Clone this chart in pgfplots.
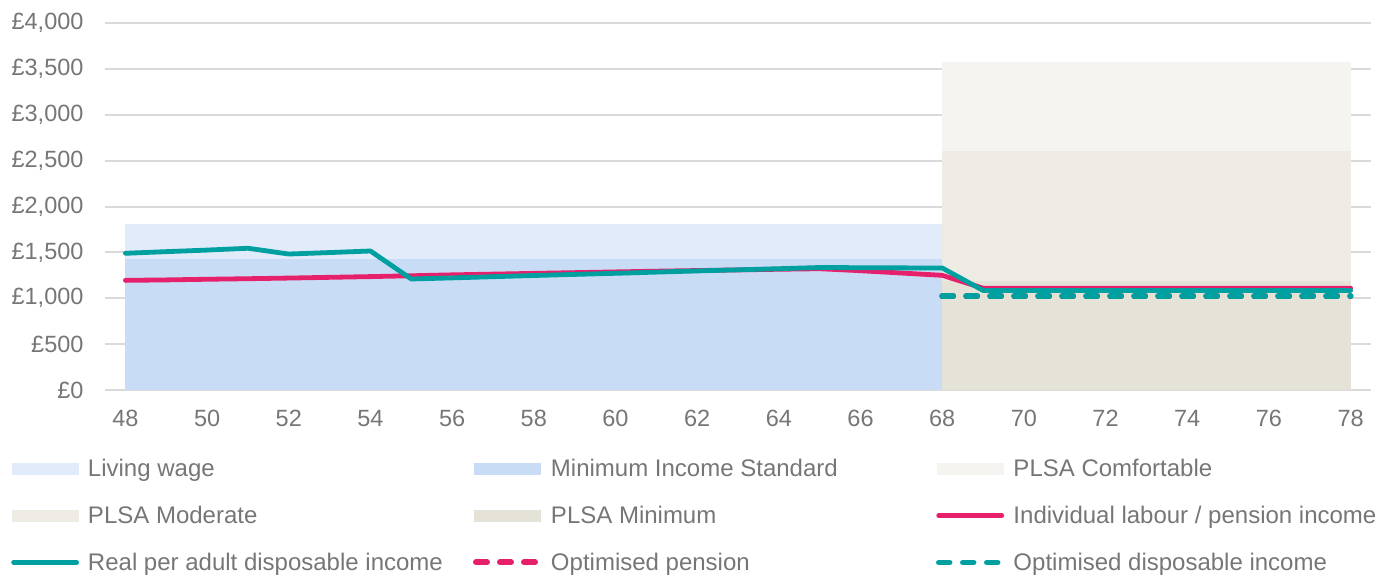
\documentclass[border=0pt]{standalone}
\usepackage{pgfplots}
\pgfplotsset{compat=1.18}
\usepackage{fontspec}
\setmainfont{Liberation Sans}
\definecolor{tickgray}{HTML}{767676}
\definecolor{gridgray}{HTML}{DADADA}
\definecolor{livingwage}{HTML}{E1EBFA}
\definecolor{mis}{HTML}{C8DCF6}
\definecolor{plsacomf}{HTML}{F5F4F0}
\definecolor{plsamod}{HTML}{EEEBE4}
\definecolor{plsamin}{HTML}{E5E2D8}
\definecolor{redline}{HTML}{E6206A}
\definecolor{tealline}{HTML}{00A0A0}
\pgfplotsset{
  swatch/.style={area legend, legend image code/.code={\fill[##1] (0pt,-6pt) rectangle (67pt,6pt);}},
  lineleg/.style={legend image code/.code={\draw[##1] (2pt,0pt) -- (65pt,0pt);}},
}
\newcommand{\lt}[1]{\makebox[383pt][l]{#1}}
\begin{document}
\begin{tikzpicture}
\begin{axis}[
  scale only axis,
  width=1266pt, height=367pt,
  xmin=47.5, xmax=78.5,
  ymin=0, ymax=4000,
  xtick={48,50,...,78},
  ytick={0,500,...,4000},
  yticklabels={£0,£500,{£1,000},{£1,500},{£2,000},{£2,500},{£3,000},{£3,500},{£4,000}},
  /pgf/number format/assume math mode=true,
  axis line style={draw=none},
  major tick length=0pt,
  ymajorgrids,
  grid style={gridgray, line width=2pt},
  tick label style={font=\fontsize{23.5}{28}\selectfont, text=tickgray},
  yticklabel style={xshift=-18pt},
  xticklabel style={yshift=-17pt},
  legend columns=3,
  legend style={draw=none, fill=none, inner sep=0pt, column sep=0pt, row sep=24pt,
    /tikz/every odd column/.append style={column sep=7pt},
    font=\fontsize{24}{28}\selectfont, text=tickgray,
    at={(axis description cs:0,0)}, anchor=north west, xshift=-94pt, yshift=-67pt},
  legend cell align=left,
]
\addplot[swatch, draw=none, fill=livingwage] coordinates {(48,1809) (68,1809)} \closedcycle;
\addlegendentry{\lt{Living wage}}
\addplot[swatch, draw=none, fill=mis] coordinates {(48,1428) (68,1428)} \closedcycle;
\addlegendentry{\lt{Minimum Income Standard}}
\addplot[swatch, draw=none, fill=plsacomf] coordinates {(68,3578) (78,3578)} \closedcycle;
\addlegendentry{PLSA Comfortable}
\addplot[swatch, draw=none, fill=plsamod] coordinates {(68,2600) (78,2600)} \closedcycle;
\addlegendentry{\lt{PLSA Moderate}}
\addplot[swatch, draw=none, fill=plsamin] coordinates {(68,1190) (78,1190)} \closedcycle;
\addlegendentry{\lt{PLSA Minimum}}
\addplot[lineleg, redline, line width=4.8pt, line cap=round, line join=round] coordinates {
(48,1195) (49,1200) (50,1207) (51,1213) (52,1220) (53,1228) (54,1236) (55,1245)
(56,1255) (57,1263) (58,1271) (59,1279) (60,1287) (61,1295) (62,1302) (63,1309)
(64,1316) (65,1322) (66,1300) (67,1275) (68,1250) (69,1110) (70,1110) (71,1110)
(72,1110) (73,1110) (74,1110) (75,1110) (76,1110) (77,1110) (78,1110)};
\addlegendentry{Individual labour / pension income}
\addplot[lineleg, tealline, line width=4.8pt, line cap=round, line join=round] coordinates {
(48,1490) (49,1508) (50,1525) (51,1545) (52,1482) (53,1498) (54,1515) (55,1210)
(56,1222) (57,1235) (58,1248) (59,1260) (60,1272) (61,1285) (62,1298) (63,1310)
(64,1322) (65,1335) (66,1333) (67,1331) (68,1330) (69,1085) (70,1085) (71,1085)
(72,1085) (73,1085) (74,1085) (75,1085) (76,1085) (77,1085) (78,1085)};
\addlegendentry{\lt{Real per adult disposable income}}
\addplot[lineleg, redline, line width=6pt, line cap=round, dash pattern=on 11pt off 13pt] coordinates {
(68,1022) (69,1022) (70,1022) (71,1022) (72,1022) (73,1022) (74,1022) (75,1022) (76,1022) (77,1022) (78,1022)};
\addlegendentry{\lt{Optimised pension}}
\addplot[lineleg, tealline, line width=5.5pt, line cap=round, dash pattern=on 11pt off 13pt] coordinates {
(68,1022) (69,1022) (70,1022) (71,1022) (72,1022) (73,1022) (74,1022) (75,1022) (76,1022) (77,1022) (78,1022)};
\addlegendentry{Optimised disposable income}
\end{axis}
\path (current axis.south west) ++(-105pt,-184pt) rectangle ++(1391pt,574pt);
\end{tikzpicture}
\end{document}
